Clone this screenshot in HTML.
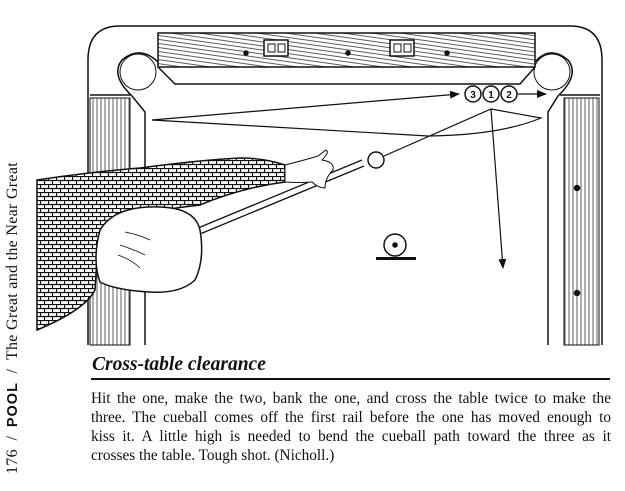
<!DOCTYPE html>
<html><head><meta charset="utf-8"><style>
html,body{margin:0;padding:0;background:#fff;}
body{width:625px;height:491px;position:relative;overflow:hidden;font-family:"Liberation Serif",serif;color:#111;}
#side{position:absolute;left:0;top:0;width:340px;height:20px;transform-origin:0 0;transform:translate(3px,474px) rotate(-90deg);font-size:16px;white-space:nowrap;line-height:20px;letter-spacing:0.3px;}
#side b{font-family:"Liberation Sans",sans-serif;font-weight:bold;font-size:14.5px;letter-spacing:1px;}
#cap{position:absolute;left:92px;top:354px;font-size:19.5px;font-style:italic;font-weight:bold;}
#rule{position:absolute;left:91px;top:378px;width:519px;height:2px;background:#111;}
#para{position:absolute;left:91px;top:389px;width:520px;font-size:15.3px;line-height:19px;}
#para div{text-align:justify;text-align-last:justify;white-space:nowrap;}
#para div.l{text-align-last:left;}
</style></head><body>
<svg width="625" height="491" style="position:absolute;left:0;top:0">
<defs>
<pattern id="weave" width="8" height="8" patternUnits="userSpaceOnUse">
<rect width="8" height="8" fill="#fff"/><path d="M0 0.5H8M0 4.5H8M0.5 0V4M4.5 4V8" stroke="#111" stroke-width="1.2"/>
</pattern>
<pattern id="woodv" width="4" height="8" patternUnits="userSpaceOnUse"><path d="M1 0V8" stroke="#333" stroke-width="0.8"/></pattern>
<pattern id="woodh" width="8" height="4" patternUnits="userSpaceOnUse" patternTransform="rotate(8)"><path d="M0 1H8" stroke="#333" stroke-width="0.8"/></pattern>
<marker id="ar" markerWidth="10" markerHeight="8" refX="9" refY="4" orient="auto" markerUnits="userSpaceOnUse"><path d="M0 0L10 4L0 8Z" fill="#111"/></marker>
</defs>
<g stroke="#111" fill="none" stroke-width="1.5">
<path d="M88 345V60Q88 26 120 26H570Q602 26 602 60V345"/>
<path d="M90 95H130M560 95H600"/>
<rect x="158" y="33" width="377" height="34" fill="url(#woodh)"/>
<rect x="264" y="40" width="24" height="16" fill="#fff"/><rect x="390" y="40" width="24" height="16" fill="#fff"/>
<path d="M268 44h7v8h-7zM278 44h7v8h-7zM394 44h7v8h-7zM404 44h7v8h-7z" stroke-width="1"/>
<circle cx="246" cy="53" r="2" fill="#111"/><circle cx="348" cy="53" r="2" fill="#111"/><circle cx="447" cy="53" r="2" fill="#111"/>
<path d="M132 96Q110 75 122 60Q140 45 158 62"/><circle cx="138" cy="72" r="18" stroke-width="1"/>
<path d="M558 96Q580 75 568 60Q550 45 535 62"/><circle cx="552" cy="72" r="18" stroke-width="1"/>
<path d="M158 67L175 84H520L535 67"/>
<path d="M132 96L145 112V345M558 96L548 112V345"/>
<rect x="90" y="98" width="40" height="247" fill="url(#woodv)" stroke-width="1"/>
<rect x="564" y="98" width="35" height="247" fill="url(#woodv)" stroke-width="1"/>
<circle cx="577" cy="188" r="2.5" fill="#111"/><circle cx="577" cy="293" r="2.5" fill="#111"/>
<g stroke-width="1.2">
<path d="M152 120L459 94" marker-end="url(#ar)"/>
<path d="M152 120Q300 128 428 136Q500 135 541 118L491 109L384 156"/>
<path d="M491 109L503 268" marker-end="url(#ar)"/>
<path d="M518 94L546 94" marker-end="url(#ar)"/>
</g>
<circle cx="473" cy="94" r="8" fill="#fff"/><circle cx="491" cy="94" r="8" fill="#fff"/><circle cx="509" cy="94" r="8" fill="#fff"/>
<circle cx="376" cy="160" r="8" fill="#fff"/>
<circle cx="395" cy="245" r="11" fill="#fff"/><circle cx="395" cy="245" r="2" fill="#111"/>
<rect x="376" y="257" width="40" height="3" fill="#111" stroke="none"/>
<path d="M198 228L362 160M200 234L364 166" stroke-width="1.3"/>
<path d="M37 180Q90 172 140 168Q200 160 240 158Q265 158 285 165L285 182Q240 188 200 205L120 215L98 240L95 290Q85 310 37 330Z" fill="url(#weave)"/>
<path d="M285 165Q305 160 318 156L326 150Q330 152 322 160Q335 162 333 170Q325 178 325 188Q318 188 312 182Q298 183 285 182Z" fill="#fff" stroke-width="1"/>
<path d="M100 230Q115 205 160 207Q195 208 200 230Q205 260 195 280Q180 294 150 292Q115 290 100 282Q92 260 100 230Z" fill="#fff"/>
<path d="M120 245Q135 250 145 255M118 255Q132 260 140 268M125 232Q140 235 150 240" stroke-width="0.8"/>
</g>
<g font-family="Liberation Sans,sans-serif" font-weight="bold" font-size="10" text-anchor="middle" fill="#111">
<text x="473" y="98">3</text><text x="491" y="98">1</text><text x="509" y="98">2</text>
</g>
</svg>
<div id="side">176 &nbsp;/ &nbsp;<b>POOL</b> &nbsp;/ &nbsp;The Great and the Near Great</div>
<div id="cap">Cross-table clearance</div>
<div id="rule"></div>
<div id="para">
<div>Hit the one, make the two, bank the one, and cross the table twice to make the</div>
<div>three. The cueball comes off the first rail before the one has moved enough to</div>
<div>kiss it. A little high is needed to bend the cueball path toward the three as it</div>
<div class="l">crosses the table. Tough shot. (Nicholl.)</div>
</div>
</body></html>
